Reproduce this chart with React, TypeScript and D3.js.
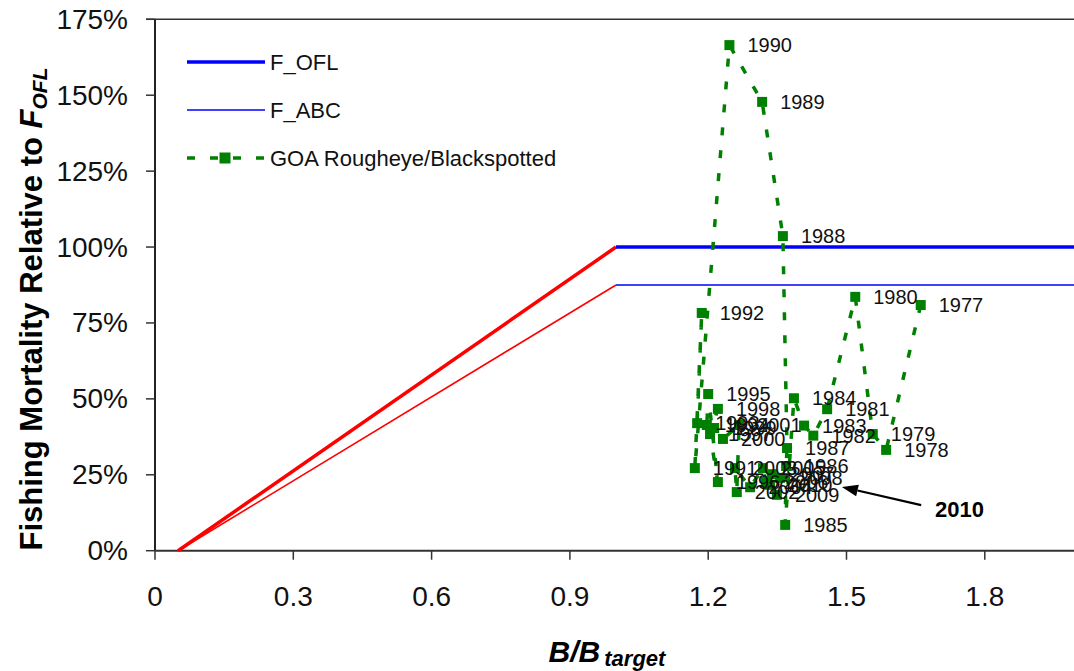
import React from "react";
import * as d3 from "d3";

// ---- data ----
const years = [1977, 1978, 1979, 1980, 1981, 1982, 1983, 1984, 1985, 1986, 1987, 1988, 1989, 1990, 1991, 1992, 1993, 1994, 1995, 1996, 1997, 1998, 1999, 2000, 2001, 2002, 2003, 2004, 2005, 2006, 2007, 2008, 2009, 2010];
const bRatio = [1.661, 1.586, 1.557, 1.519, 1.458, 1.428, 1.408, 1.386, 1.367, 1.369, 1.371, 1.362, 1.317, 1.246, 1.171, 1.186, 1.176, 1.197, 1.2, 1.221, 1.204, 1.221, 1.213, 1.232, 1.267, 1.262, 1.258, 1.291, 1.319, 1.325, 1.338, 1.356, 1.349, 1.334];
const fRatio = [0.809, 0.332, 0.384, 0.836, 0.466, 0.379, 0.412, 0.502, 0.085, 0.279, 0.338, 1.036, 1.478, 1.665, 0.272, 0.783, 0.42, 0.414, 0.516, 0.226, 0.384, 0.467, 0.404, 0.368, 0.414, 0.193, 0.272, 0.209, 0.272, 0.226, 0.252, 0.24, 0.184, 0.217];

const ofLB = [0.05, 1.0];
const ofLF = [0.0, 1.0];
const abcF = [0.0, 0.875];
const flatB = [1.0, 2.0];

const xTicks = [0, 0.3, 0.6, 0.9, 1.2, 1.5, 1.8];
const xTickLabels = ["0", "0.3", "0.6", "0.9", "1.2", "1.5", "1.8"];
const yTicks = [0, 0.25, 0.5, 0.75, 1.0, 1.25, 1.5, 1.75];
const yTickLabels = ["0%", "25%", "50%", "75%", "100%", "125%", "150%", "175%"];

const legendLabels = ["F_OFL", "F_ABC", "GOA Rougheye/Blackspotted"];
const arrowFrom = [1.662, 0.15];
const arrowTo = [1.49, 0.21];
const arrowLabel = "2010";
const arrowLabelPos = [1.692, 0.137];

const W = 1074;
const H = 671;
const FONT = "'Liberation Sans', Arial, Helvetica, sans-serif";

export default function App() {
  const x = d3.scaleLinear().domain([0, 2]).range([155, 1077]);
  const y = d3.scaleLinear().domain([0, 1.75]).range([550.7, 19.3]);
  const line = d3.line<[number, number]>().x((d) => x(d[0])).y((d) => y(d[1]));

  const green = "#008000";
  const pts: [number, number][] = years.map((_, i) => [bRatio[i], fRatio[i]]);

  const ms = 10;

  // arrow geometry
  const ax1 = x(arrowFrom[0]), ay1 = y(arrowFrom[1]);
  const ax2 = x(arrowTo[0]), ay2 = y(arrowTo[1]);
  const ang = Math.atan2(ay2 - ay1, ax2 - ax1);
  const hl = 16, hw = 6;
  const bx = ax2 - hl * Math.cos(ang), by = ay2 - hl * Math.sin(ang);
  const head = `M${ax2},${ay2} L${bx + hw * Math.sin(ang)},${by - hw * Math.cos(ang)} L${bx - hw * Math.sin(ang)},${by + hw * Math.cos(ang)} Z`;

  return (
    <svg width={W} height={H} style={{ position: "absolute", left: 0, top: 0, background: "#fff" }} fontFamily={FONT}>
      <rect x={0} y={0} width={W} height={H} fill="#fff" />
      {/* top border */}
      <line x1={146} x2={W} y1={y(1.75)} y2={y(1.75)} stroke="#333" strokeWidth={1.5} />
      {/* axes */}
      <line x1={x(0)} x2={x(0)} y1={y(1.75)} y2={y(0)} stroke="#222" strokeWidth={2} />
      <line x1={x(0)} x2={W} y1={y(0)} y2={y(0)} stroke="#333" strokeWidth={2} />
      {yTicks.map((t, i) => (
        <g key={"yt" + i}>
          <line x1={146} x2={x(0)} y1={y(t)} y2={y(t)} stroke="#333" strokeWidth={1.5} />
          <text x={128} y={y(t)} textAnchor="end" dominantBaseline="central" fontSize={28} fill="#111">{yTickLabels[i]}</text>
        </g>
      ))}
      {xTicks.map((t, i) => (
        <g key={"xt" + i}>
          <line x1={x(t)} x2={x(t)} y1={y(0)} y2={y(0) + 9} stroke="#333" strokeWidth={1.5} />
          <text x={x(t)} y={596} textAnchor="middle" dominantBaseline="central" fontSize={28} fill="#111">{xTickLabels[i]}</text>
        </g>
      ))}

      {/* control rule lines */}
      <path d={line([[ofLB[0], ofLF[0]], [ofLB[1], ofLF[1]]]) || ""} stroke="#ff0000" strokeWidth={3.5} fill="none" />
      <path d={line([[ofLB[0], abcF[0]], [ofLB[1], abcF[1]]]) || ""} stroke="#ff0000" strokeWidth={1.6} fill="none" />
      <path d={line([[flatB[0], ofLF[1]], [flatB[1], ofLF[1]]]) || ""} stroke="#0000ff" strokeWidth={3.5} fill="none" />
      <path d={line([[flatB[0], abcF[1]], [flatB[1], abcF[1]]]) || ""} stroke="#0000ff" strokeWidth={1.6} fill="none" />

      {/* trajectory */}
      <path d={line(pts) || ""} stroke={green} strokeWidth={3.5} strokeDasharray="8 15" fill="none" />
      {pts.map((p, i) => (
        <rect key={"m" + i} x={x(p[0]) - ms / 2} y={y(p[1]) - ms / 2} width={ms} height={ms} fill={green} />
      ))}
      {pts.map((p, i) => (
        <text key={"l" + i} x={x(p[0]) + 18} y={y(p[1])} dominantBaseline="central" fontSize={20} fill="#111">{years[i]}</text>
      ))}

      {/* arrow annotation */}
      <line x1={ax1} y1={ay1} x2={bx} y2={by} stroke="#000" strokeWidth={2.2} />
      <path d={head} fill="#000" />
      <text x={x(arrowLabelPos[0])} y={y(arrowLabelPos[1])} dominantBaseline="central" fontSize={22} fontWeight="bold" fill="#000">{arrowLabel}</text>

      {/* legend */}
      <line x1={187} x2={265} y1={62} y2={62} stroke="#0000ff" strokeWidth={3.5} />
      <text x={270} y={62} dominantBaseline="central" fontSize={22} fill="#111">{legendLabels[0]}</text>
      <line x1={187} x2={265} y1={110} y2={110} stroke="#0000ff" strokeWidth={1.6} />
      <text x={270} y={110} dominantBaseline="central" fontSize={22} fill="#111">{legendLabels[1]}</text>
      <line x1={187} x2={265} y1={158} y2={158} stroke={green} strokeWidth={3.5} strokeDasharray="8 15" />
      <rect x={225 - 5.5} y={158 - 5.5} width={11} height={11} fill={green} />
      <text x={270} y={158} dominantBaseline="central" fontSize={22} fill="#111">{legendLabels[2]}</text>

      {/* axis titles */}
      <text transform="translate(42,309) rotate(-90)" textAnchor="middle" fontSize={31} fontWeight="bold" fill="#000">
        Fishing Mortality Relative to <tspan fontStyle="italic">F</tspan>
        <tspan fontStyle="italic" fontSize={21} dy={5}>OFL</tspan>
      </text>
      <text x={607} y={662} textAnchor="middle" fontSize={30} fontWeight="bold" fontStyle="italic" fill="#000">
        B/B<tspan fontSize={22} dy={4} dx={4}>target</tspan>
      </text>
    </svg>
  );
}
